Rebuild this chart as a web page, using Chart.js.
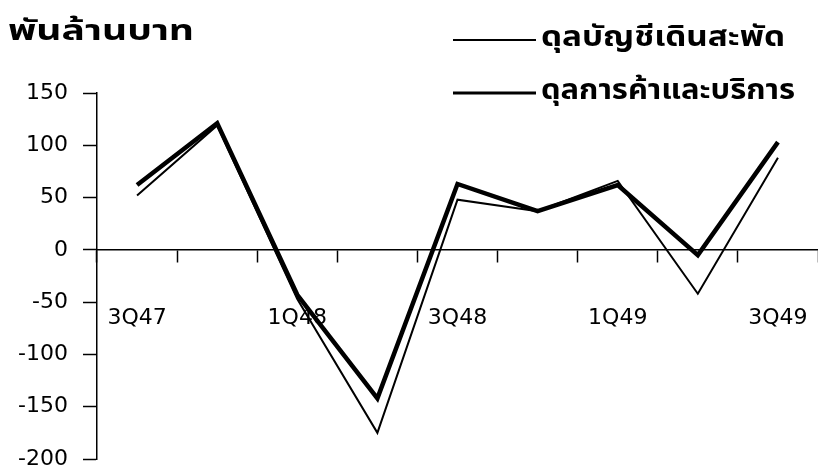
<!DOCTYPE html>
<html>
<head>
<meta charset="utf-8">
<script src="https://cdn.jsdelivr.net/npm/chart.js@4/dist/chart.umd.min.js"></script>
<style>
  html, body { margin: 0; padding: 0; background: #fff; }
  #wrap { width: 818px; height: 473px; position: relative; }
</style>
</head>
<body>
<div id="wrap"><canvas id="c" width="818" height="473"></canvas></div>
<script>
const categories = ['3Q47', '4Q47', '1Q48', '2Q48', '3Q48', '4Q48', '1Q49', '2Q49', '3Q49'];
const currentAccount = [52, 119, -47, -175, 48, 37, 66, -42, 88];
const tradeAndServices = [62, 121, -43, -142, 63, 37, 62, -5, 103];
const yTicks = [-200, -150, -100, -50, 0, 50, 100, 150];
const unitTitle = 'พันล้านบาท';
const seriesNames = ['ดุลบัญชีเดินสะพัด', 'ดุลการค้าและบริการ'];

const tickFont = { family: 'DejaVu Sans, Liberation Sans, sans-serif', size: 22 };
const thaiFont = '"Noto Sans Thai", "Noto Sans", "DejaVu Sans", sans-serif';

function drawStretched(ctx, text, x, y, targetWidth) {
  const w = ctx.measureText(text).width;
  const sx = targetWidth / w;
  ctx.save();
  ctx.translate(x, y);
  ctx.scale(sx, 1);
  ctx.fillText(text, 0, 0);
  ctx.restore();
}

const headerPlugin = {
  id: 'header',
  afterDraw(chart) {
    const ctx = chart.ctx;
    ctx.save();
    ctx.fillStyle = '#000';
    ctx.textBaseline = 'middle';
    ctx.textAlign = 'left';
    ctx.font = 'bold 28px ' + thaiFont;
    drawStretched(ctx, unitTitle, 8, 34, 186);
    const rows = [
      { y: 40, w: 2, tw: 244 },
      { y: 93, w: 3.2, tw: 254 }
    ];
    rows.forEach((r, i) => {
      ctx.strokeStyle = '#000';
      ctx.lineWidth = r.w;
      ctx.beginPath();
      ctx.moveTo(453, r.y);
      ctx.lineTo(536, r.y);
      ctx.stroke();
      drawStretched(ctx, seriesNames[i], 541, r.y, r.tw);
    });
    ctx.restore();
  }
};

new Chart(document.getElementById('c'), {
  type: 'line',
  data: {
    labels: categories,
    datasets: [
      {
        label: seriesNames[0],
        data: currentAccount,
        borderColor: '#000',
        borderWidth: 2,
        pointRadius: 0,
        tension: 0,
        fill: false
      },
      {
        label: seriesNames[1],
        data: tradeAndServices,
        borderColor: '#000',
        borderWidth: 4.5,
        pointRadius: 0,
        tension: 0,
        fill: false
      }
    ]
  },
  options: {
    responsive: false,
    animation: false,
    devicePixelRatio: 1,
    layout: { padding: { top: 93, bottom: 14, left: 0, right: 0 } },
    plugins: {
      legend: { display: false },
      title: { display: false },
      tooltip: { enabled: false }
    },
    scales: {
      x: {
        type: 'category',
        position: { y: 0 },
        offset: true,
        afterFit: function (scale) { scale.paddingLeft = 0; scale.paddingRight = 0; },
        grid: {
          offset: true,
          drawOnChartArea: false,
          drawTicks: true,
          tickLength: 12,
          tickWidth: 1.5,
          tickColor: '#000'
        },
        border: { display: true, color: '#000', width: 1.5 },
        ticks: {
          autoSkip: false,
          maxRotation: 0,
          minRotation: 0,
          padding: 43,
          color: '#000',
          font: tickFont,
          callback: function (value, index) {
            return index % 2 === 0 ? categories[index] : '';
          }
        }
      },
      y: {
        min: -200,
        max: 150,
        afterFit: function (scale) {
          scale.width = 97;
          scale.paddingTop = 0;
          scale.paddingBottom = 0;
        },
        afterBuildTicks: function (scale) {
          scale.ticks = yTicks.map(v => ({ value: v }));
        },
        grid: {
          drawOnChartArea: false,
          drawTicks: true,
          tickLength: 14,
          tickWidth: 1.5,
          tickColor: '#000'
        },
        border: { display: true, color: '#000', width: 1.5 },
        ticks: {
          padding: 15,
          color: '#000',
          font: tickFont
        }
      }
    }
  },
  plugins: [headerPlugin]
});
</script>
</body>
</html>
